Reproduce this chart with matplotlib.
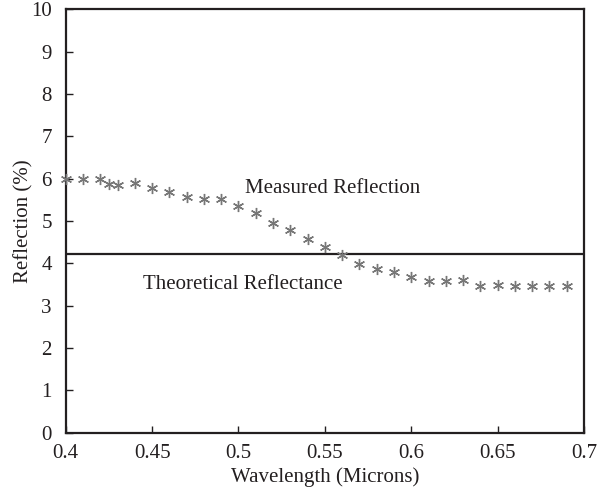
import matplotlib
matplotlib.use("Agg")
import matplotlib.pyplot as plt

# Measured reflection versus wavelength
wavelength = [0.40, 0.41, 0.42, 0.425, 0.43, 0.44, 0.45, 0.46, 0.47, 0.48,
              0.49, 0.50, 0.51, 0.52, 0.53, 0.54, 0.55, 0.56, 0.57, 0.58,
              0.59, 0.60, 0.61, 0.62, 0.63, 0.64, 0.65, 0.66, 0.67, 0.68, 0.69]
reflection = [6.0, 6.0, 6.0, 5.87, 5.86, 5.89, 5.78, 5.68, 5.57, 5.51,
              5.51, 5.36, 5.18, 4.96, 4.79, 4.57, 4.38, 4.20, 3.98, 3.87,
              3.80, 3.68, 3.58, 3.58, 3.61, 3.46, 3.49, 3.47, 3.47, 3.47, 3.47]
theoretical = 4.22

x_ticks = [0.4, 0.45, 0.5, 0.55, 0.6, 0.65, 0.7]
x_tick_labels = ["0.4", "0.45", "0.5", "0.55", "0.6", "0.65", "0.7"]
y_ticks = list(range(0, 11))

ink = "#231f20"
fs = 15
plt.rcParams["font.family"] = ["Liberation Serif", "DejaVu Serif"]

fig = plt.figure(figsize=(6.01, 4.90), dpi=100)
ax = fig.add_axes([0.1093, 0.1173, 0.9717 - 0.1093, 0.981 - 0.1173])

ax.axhline(theoretical, color=ink, linewidth=1.6, zorder=2)
ax.plot(wavelength, reflection, linestyle="none", marker=(6, 2, 0),
        markersize=8, markeredgewidth=1.0, color="#777777", zorder=3,
        clip_on=False)

ax.text(0.5036, 5.83, "Measured Reflection", fontsize=fs, color=ink,
        ha="left", va="center_baseline")
ax.text(0.4448, 3.56, "Theoretical Reflectance", fontsize=fs, color=ink,
        ha="left", va="center_baseline")

ax.set_xlim(0.4, 0.7)
ax.set_ylim(0, 10)
ax.set_xticks(x_ticks)
ax.set_xticklabels(x_tick_labels)
ax.set_yticks(y_ticks)

for side in ["left", "bottom", "right", "top"]:
    ax.spines[side].set_color(ink)
    ax.spines[side].set_linewidth(1.6)

ax.tick_params(axis="both", direction="in", length=5, width=1.0, color=ink,
               labelcolor=ink, labelsize=fs)
ax.tick_params(axis="x", pad=8)
ax.tick_params(axis="y", pad=10)

ax.set_xlabel("Wavelength (Microns)", fontsize=fs, color=ink, labelpad=3)
ax.set_ylabel("Reflection (%)", fontsize=fs, color=ink, labelpad=-1.5)

fig.savefig("out.png", dpi=100)
